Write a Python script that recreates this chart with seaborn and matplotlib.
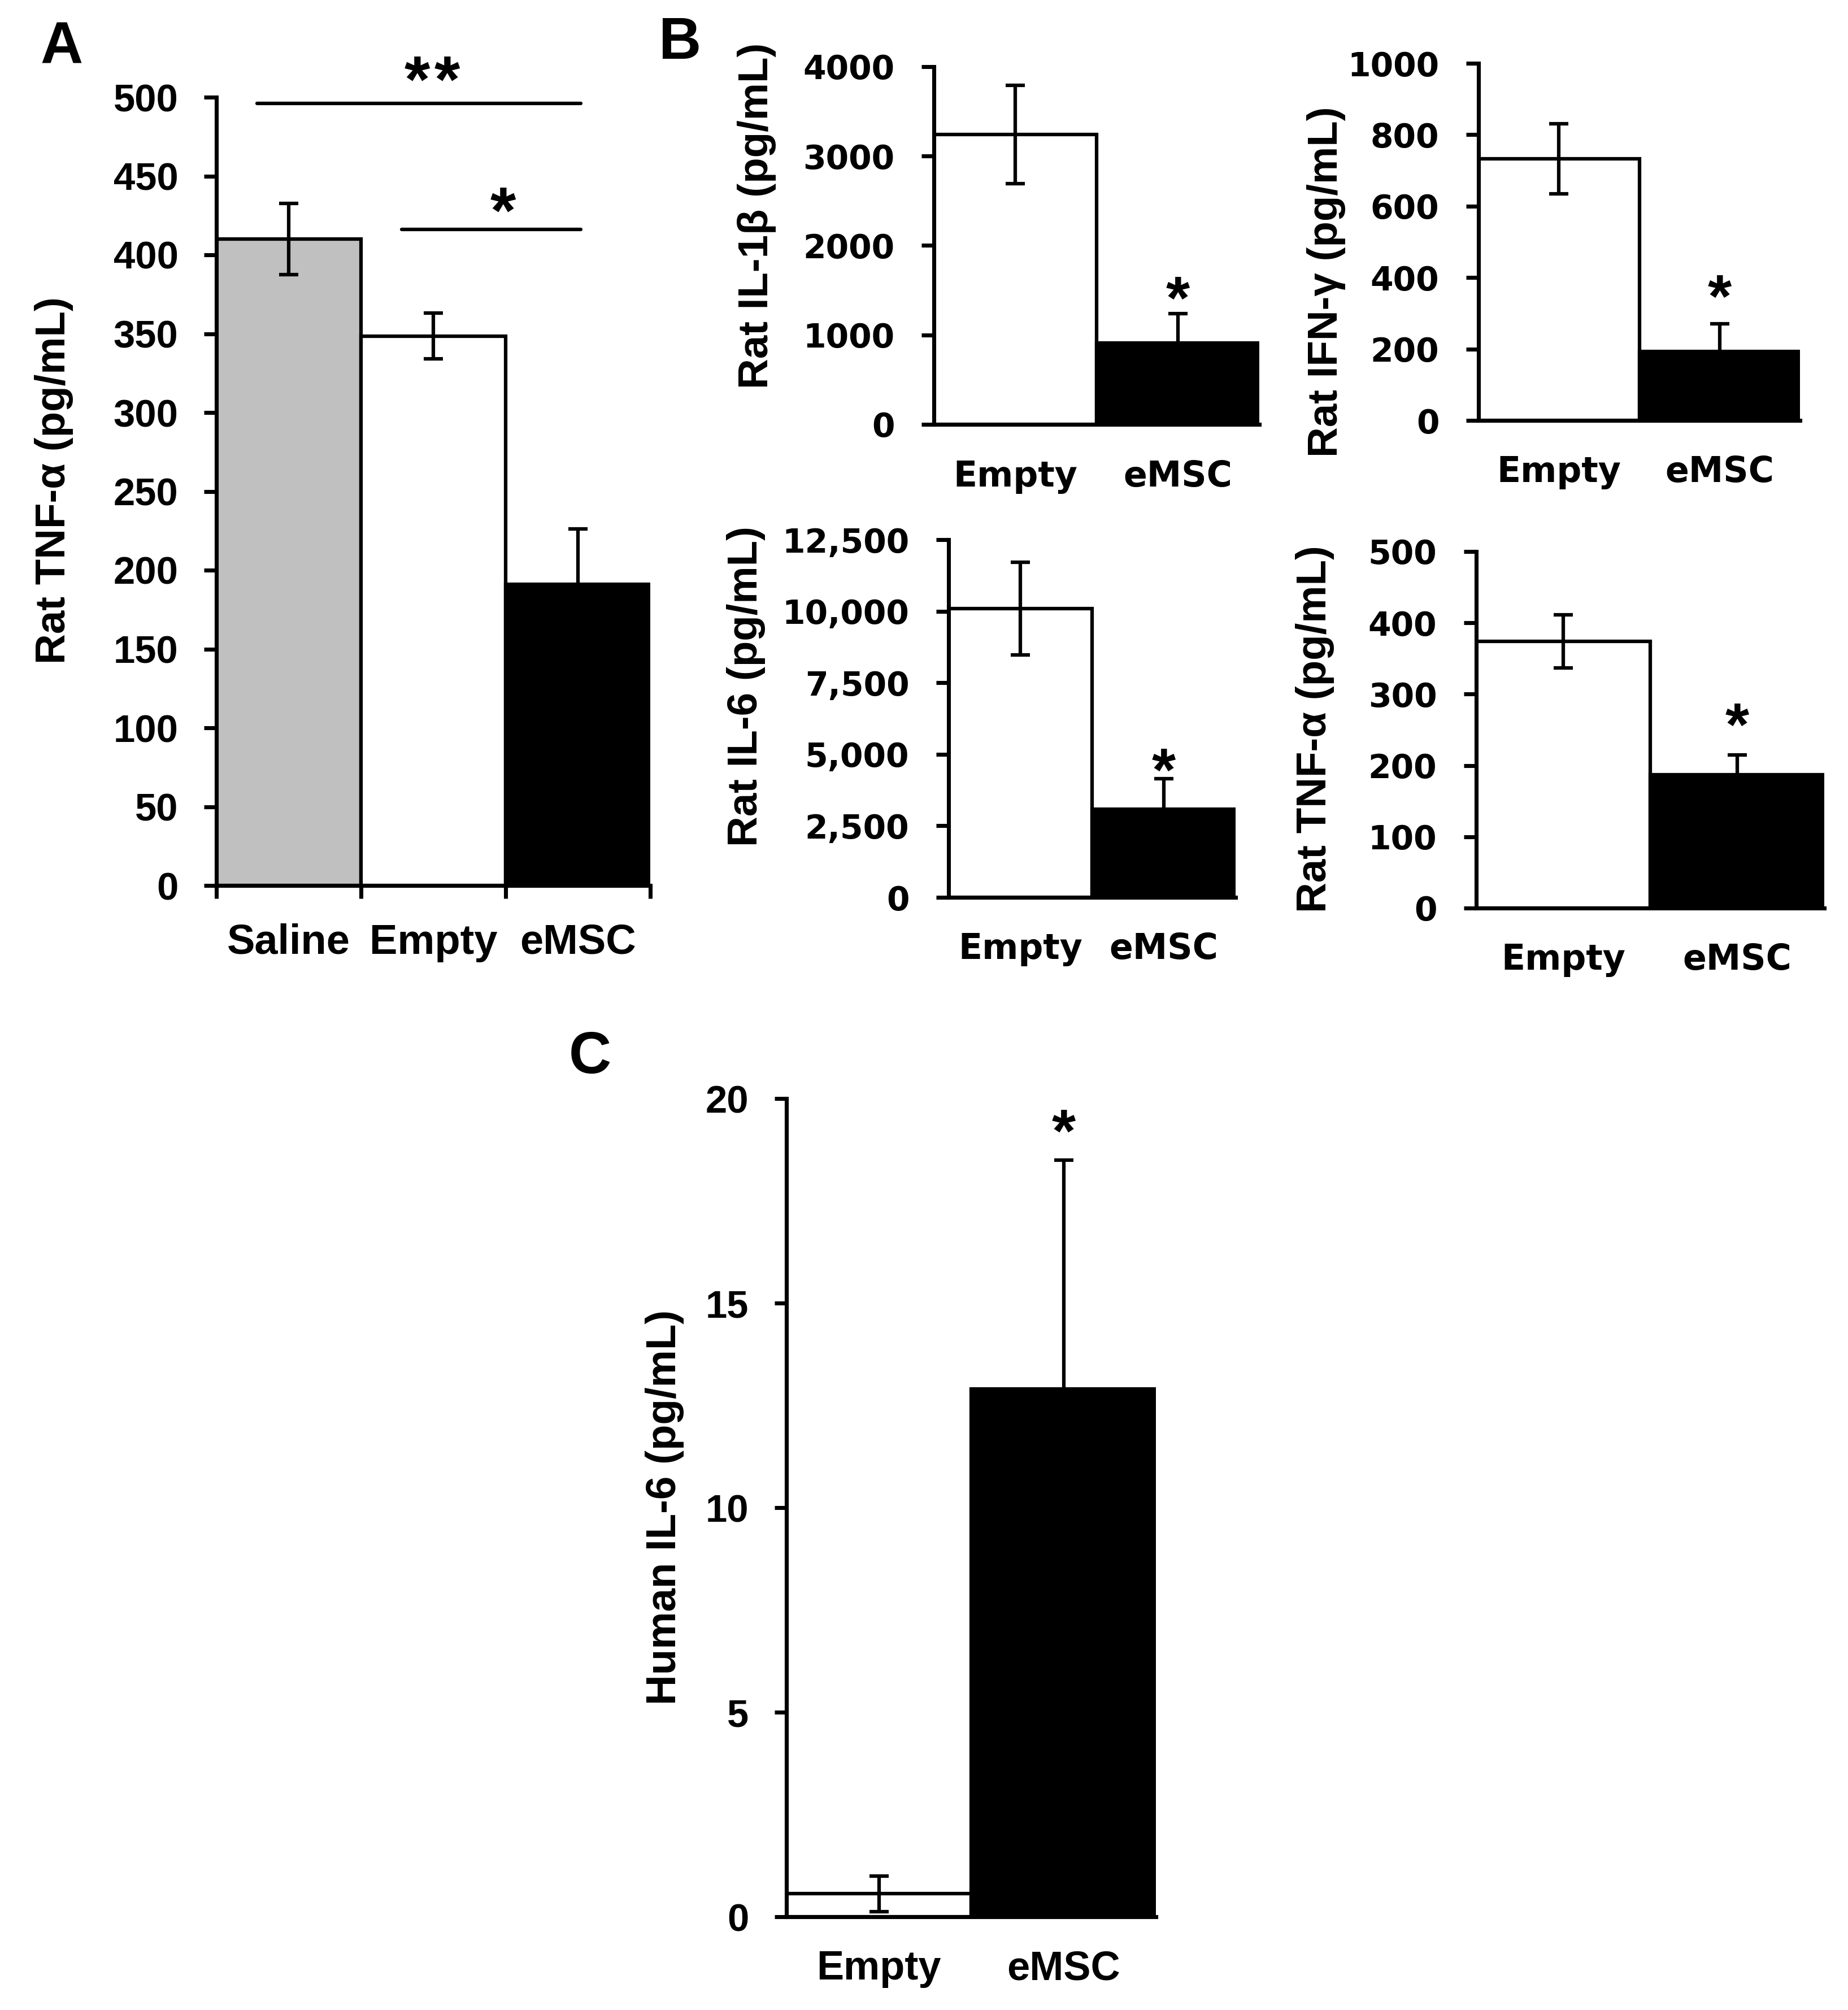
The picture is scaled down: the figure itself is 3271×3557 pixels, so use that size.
import matplotlib
matplotlib.use('Agg')
import matplotlib.pyplot as plt
import seaborn as sns

sns.set_theme(style='ticks')
plt.rcParams['font.family'] = ['Liberation Sans', 'DejaVu Sans']
plt.rcParams['font.weight'] = 'bold'

# ---------------- data ----------------
a_groups = ['Saline', 'Empty', 'eMSC']
a_colors = ['#c0c0c0', '#ffffff', '#000000']
a_tnf_mean = [410, 348.5, 191]
a_tnf_sem = [22.5, 14.5, 35]
a_yticks = [0, 50, 100, 150, 200, 250, 300, 350, 400, 450, 500]

b_groups = ['Empty', 'eMSC']
b_colors = ['#ffffff', '#000000']
b_il1b_mean = [3242, 910]
b_il1b_sem = [550, 329]
b_il1b_ticks = [0, 1000, 2000, 3000, 4000]
b_ifng_mean = [732, 193]
b_ifng_sem = [98, 78]
b_ifng_ticks = [0, 200, 400, 600, 800, 1000]
b_il6_mean = [10090, 3089]
b_il6_sem = [1612, 1058]
b_il6_ticks = [0, 2500, 5000, 7500, 10000, 12500]
b_il6_ticklabels = ['0', '2,500', '5,000', '7,500', '10,000', '12,500']
b_tnf_mean = [374, 187]
b_tnf_sem = [37, 28]
b_tnf_ticks = [0, 100, 200, 300, 400, 500]

c_groups = ['Empty', 'eMSC']
c_hil6_mean = [0.56, 12.9]
c_hil6_sem = [0.44, 5.6]
c_yticks = [0, 5, 10, 15, 20]

# significance marks
a_sig2_line = ([-0.22, 2.02], 496)
a_sig1_line = ([0.78, 2.02], 416)
a_sig2_stars = [(0.887, 519), (1.097, 519)]
a_sig1_star = (1.483, 436)
b_il1b_star = 1547
b_ifng_star = 380
b_il6_star = 4877
b_tnf_star = 274
c_star = 19.5

W, H = 3271, 3557
DPI = 300
fig = plt.figure(figsize=(W / DPI, H / DPI), dpi=DPI)
fig.patch.set_facecolor('white')

LW = 1.7
ELW = 1.5
SANS = ['Liberation Sans', 'DejaVu Sans']
WIDE = ['DejaVu Sans']


def add_axes(l, r, t, b):
    return fig.add_axes([l / W, 1 - b / H, (r - l) / W, (b - t) / H])


def panel(ax, groups, means, sems, colors, yticks, yticklabels, tick_fam, tick_fs,
          x_fam, x_fs, xpad, ypad, ticklen):
    sns.barplot(x=groups, y=means, hue=groups, palette=colors, width=1.0,
                edgecolor='black', linewidth=ELW, legend=False, errorbar=None,
                saturation=1, ax=ax)
    ax.errorbar(range(len(groups)), means, yerr=sems, fmt='none', ecolor='black',
                elinewidth=ELW, capsize=4.0, capthick=ELW, zorder=5)
    ax.set_xlim(-0.5, len(groups) - 0.5)
    ax.set_ylim(yticks[0], yticks[-1])
    labels = yticklabels if yticklabels is not None else [str(v) for v in yticks]
    ax.set_yticks(yticks, labels=labels, fontfamily=tick_fam, fontsize=tick_fs,
                  fontweight='bold', color='black')
    ax.set_xticks(range(len(groups)), labels=groups, fontfamily=x_fam, fontsize=x_fs,
                  fontweight='bold', color='black')
    for s in ['top', 'right']:
        ax.spines[s].set_visible(False)
    for s in ['left', 'bottom']:
        ax.spines[s].set_linewidth(LW)
        ax.spines[s].set_color('black')
    ax.tick_params(axis='y', direction='out', length=ticklen, width=LW, color='black',
                   pad=ypad)
    ax.tick_params(axis='x', which='major', length=0, pad=xpad)
    ax.set_xlabel('')
    ax.set_ylabel('')
    ax.set_facecolor('white')
    ax.grid(False)


def star(ax, x, yc, text='*', fs=26):
    # place the visual centre of the asterisk glyph at (x, yc)
    ax.annotate(text, xy=(x, yc), xytext=(0, -0.53 * fs), textcoords='offset points',
                ha='center', va='baseline', fontsize=fs, fontweight='bold',
                fontfamily=SANS, color='black', annotation_clip=False)


# ---------------- Panel A ----------------
axA = add_axes(383, 1151, 172, 1567)
panel(axA, a_groups, a_tnf_mean, a_tnf_sem, a_colors, a_yticks, None,
      SANS, 16.5, SANS, 17.8, 16, 11, 5.2)
axA.set_xticks([-0.5, 0.5, 1.5, 2.5], minor=True)
axA.tick_params(axis='x', which='minor', direction='out', length=5.5, width=LW,
                color='black')
axA.plot(a_sig2_line[0], [a_sig2_line[1]] * 2, color='black', lw=ELW, clip_on=False)
axA.plot(a_sig1_line[0], [a_sig1_line[1]] * 2, color='black', lw=ELW, clip_on=False)
for sx, sy in a_sig2_stars:
    star(axA, sx, sy, '*', fs=28)
star(axA, a_sig1_star[0], a_sig1_star[1], '*', fs=28)

# ---------------- Panel B ----------------
axB1 = add_axes(1653, 2229, 118, 751)
panel(axB1, b_groups, b_il1b_mean, b_il1b_sem, b_colors, b_il1b_ticks, None,
      WIDE, 14, WIDE, 14.8, 15, 11.5, 5.2)
star(axB1, 1, b_il1b_star)

axB2 = add_axes(2617, 3186, 112, 744)
panel(axB2, b_groups, b_ifng_mean, b_ifng_sem, b_colors, b_ifng_ticks, None,
      WIDE, 14, WIDE, 14.8, 15, 11.5, 5.2)
star(axB2, 1, b_ifng_star)

axB3 = add_axes(1679, 2187, 955, 1588)
panel(axB3, b_groups, b_il6_mean, b_il6_sem, b_colors, b_il6_ticks, b_il6_ticklabels,
      WIDE, 14, WIDE, 14.8, 15, 11.5, 5.2)
star(axB3, 1, b_il6_star)

axB4 = add_axes(2613, 3229, 976, 1607)
panel(axB4, b_groups, b_tnf_mean, b_tnf_sem, b_colors, b_tnf_ticks, None,
      WIDE, 14, WIDE, 14.8, 15, 11.5, 5.2)
star(axB4, 1, b_tnf_star)

# ---------------- Panel C ----------------
axC = add_axes(1392, 2046, 1944, 3392)
panel(axC, c_groups, c_hil6_mean, c_hil6_sem, b_colors, c_yticks, None,
      SANS, 16.5, SANS, 17.3, 14, 11, 5.0)
star(axC, 1, c_star)

# ---------------- axis titles & panel letters ----------------
ylabels = [
    (96, 850, 'Rat TNF-\u03b1 (pg/mL)'),
    (1339, 382, 'Rat IL-1\u03b2 (pg/mL)'),
    (2348, 499, 'Rat IFN-\u03b3 (pg/mL)'),
    (1320, 1215, 'Rat IL-6 (pg/mL)'),
    (2328, 1290, 'Rat TNF-\u03b1 (pg/mL)'),
    (1176, 2667, 'Human IL-6 (pg/mL)'),
]
for x, y, t in ylabels:
    fig.text(x / W, 1 - y / H, t, rotation=90, ha='center', va='center',
             fontsize=17.9, fontweight='bold', color='black', fontfamily=SANS)

for x, y, t in [(109, 85, 'A'), (1204, 78, 'B'), (1044, 1873, 'C')]:
    fig.text(x / W, 1 - y / H, t, ha='center', va='center', fontsize=25,
             fontweight='bold', color='black', fontfamily=SANS)

fig.savefig('out.png', dpi=DPI, facecolor='white')
